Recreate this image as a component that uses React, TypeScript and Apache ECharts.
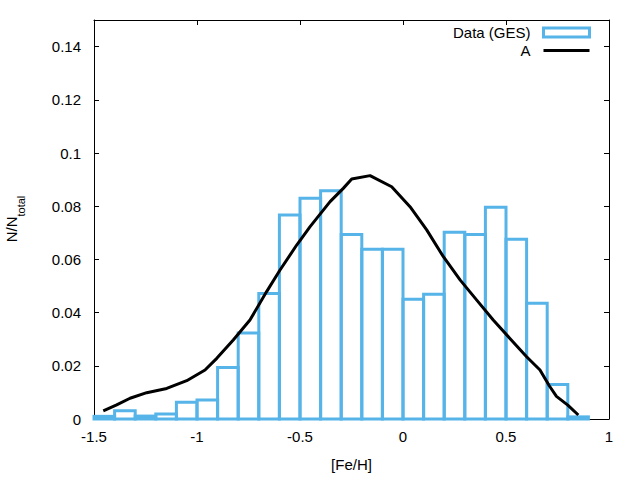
import React, { useEffect, useRef } from "react";
import * as echarts from "echarts";

const FONT = "Liberation Sans, Arial, sans-serif";
const BAR_COLOR = "#56b4e9";

// Histogram bins (left edges, width 0.1) and normalised counts
const binStarts = [-1.5, -1.4, -1.3, -1.2, -1.1, -1.0, -0.9, -0.8, -0.7, -0.6, -0.5, -0.4, -0.3, -0.2, -0.1, 0.0, 0.1, 0.2, 0.3, 0.4, 0.5, 0.6, 0.7, 0.8];
const binValues = [0.001, 0.0031, 0.0011, 0.0019, 0.0063, 0.0071, 0.0194, 0.0323, 0.0472, 0.0767, 0.083, 0.0858, 0.0694, 0.0638, 0.0638, 0.045, 0.0469, 0.0702, 0.0694, 0.0796, 0.0676, 0.0435, 0.013, 0.0008];
const binWidth = 0.1;

// Model curve "A"
const curveX = [-1.455, -1.39, -1.325, -1.244, -1.147, -1.05, -0.961, -0.904, -0.824, -0.743, -0.662, -0.597, -0.516, -0.451, -0.354, -0.29, -0.249, -0.16, -0.055, 0.034, 0.115, 0.196, 0.277, 0.358, 0.438, 0.519, 0.6, 0.665, 0.71, 0.745, 0.8, 0.851];
const curveY = [0.0031, 0.0053, 0.0078, 0.0099, 0.0115, 0.0144, 0.0184, 0.0228, 0.0297, 0.0372, 0.0479, 0.056, 0.0654, 0.0723, 0.0817, 0.0867, 0.0902, 0.0915, 0.0873, 0.0798, 0.0711, 0.061, 0.0523, 0.0447, 0.0372, 0.0303, 0.0234, 0.0184, 0.0125, 0.0085, 0.0052, 0.0015];

const xTicks = { min: -1.5, max: 1, interval: 0.5 };
const yTicks = { min: 0, max: 0.15, interval: 0.02 };

export default function App() {
  const ref = useRef<HTMLDivElement>(null);
  useEffect(() => {
    if (!ref.current) return;
    const chart = echarts.init(ref.current, null, { renderer: "svg" });
    const histData = binStarts.map((s, i) => [s, +(s + binWidth).toFixed(2), binValues[i]]);
    const lineData = curveX.map((x, i) => [x, curveY[i]]);
    const axisCommon = {
      axisLine: { show: true, onZero: false, lineStyle: { color: "#000", width: 1 } },
      axisTick: { show: true, inside: true, length: 5, lineStyle: { color: "#000", width: 1 } },
      splitLine: { show: false },
    };
    chart.setOption({
      animation: false,
      backgroundColor: "#fff",
      grid: { left: 94, right: 31, top: 20, bottom: 61, containLabel: false },
      legend: {
        orient: "vertical",
        right: 44,
        top: 20,
        align: "right",
        itemWidth: 46,
        itemHeight: 9,
        itemGap: 3,
        selectedMode: false,
        textStyle: { fontSize: 15, color: "#000", fontFamily: FONT, padding: [0, 8, 0, 0] },
        data: [
          { name: "Data (GES)", icon: "rect", itemStyle: { color: "rgba(0,0,0,0)", borderColor: BAR_COLOR, borderWidth: 3 } },
          { name: "A", icon: "path://M0,0H46V3H0Z", itemStyle: { color: "#000", borderWidth: 0 } },
        ],
      },
      xAxis: [
        {
          type: "value",
          position: "bottom",
          ...xTicks,
          ...axisCommon,
          axisLabel: { color: "#000", fontSize: 15, fontFamily: FONT, margin: 10 },
          name: "[Fe/H]",
          nameLocation: "middle",
          nameGap: 38,
          nameTextStyle: { color: "#000", fontSize: 15, fontFamily: FONT },
        },
        {
          type: "value",
          position: "top",
          ...xTicks,
          ...axisCommon,
          axisLabel: { show: false },
        },
      ],
      yAxis: [
        {
          type: "value",
          position: "left",
          ...yTicks,
          ...axisCommon,
          axisLabel: { color: "#000", fontSize: 15, fontFamily: FONT, margin: 13, showMaxLabel: false },
        },
        {
          type: "value",
          position: "right",
          ...yTicks,
          ...axisCommon,
          axisLabel: { show: false },
        },
      ],
      graphic: [
        {
          type: "text",
          x: 15,
          y: 219,
          rotation: Math.PI / 2,
          style: {
            text: "{a|N/N}{b|total}",
            align: "center",
            verticalAlign: "middle",
            rich: {
              a: { fontSize: 15, fontFamily: FONT, fill: "#000", lineHeight: 22, verticalAlign: "top" },
              b: { fontSize: 11, fontFamily: FONT, fill: "#000", lineHeight: 13, verticalAlign: "bottom" },
            },
          },
        },
      ],
      series: [
        {
          name: "Data (GES)",
          type: "custom",
          xAxisIndex: 0,
          yAxisIndex: 0,
          data: histData,
          encode: { x: [0, 1], y: 2 },
          itemStyle: { color: "rgba(0,0,0,0)", borderColor: BAR_COLOR, borderWidth: 3 },
          renderItem: (params: any, api: any) => {
            const x0 = api.value(0);
            const x1 = api.value(1);
            const y = api.value(2);
            const p0 = api.coord([x0, 0]);
            const p1 = api.coord([x1, y]);
            return {
              type: "rect",
              shape: { x: p0[0], y: p1[1], width: p1[0] - p0[0], height: p0[1] - p1[1] },
              style: { fill: "none", stroke: BAR_COLOR, lineWidth: 3 },
            };
          },
        },
        {
          name: "A",
          type: "line",
          xAxisIndex: 0,
          yAxisIndex: 0,
          data: lineData,
          symbol: "none",
          showSymbol: false,
          smooth: false,
          lineStyle: { color: "#000", width: 3 },
          itemStyle: { color: "#000" },
        },
      ],
    });
    return () => chart.dispose();
  }, []);
  return <div ref={ref} style={{ position: "fixed", left: 0, top: 0, width: 640, height: 480 }} />;
}
